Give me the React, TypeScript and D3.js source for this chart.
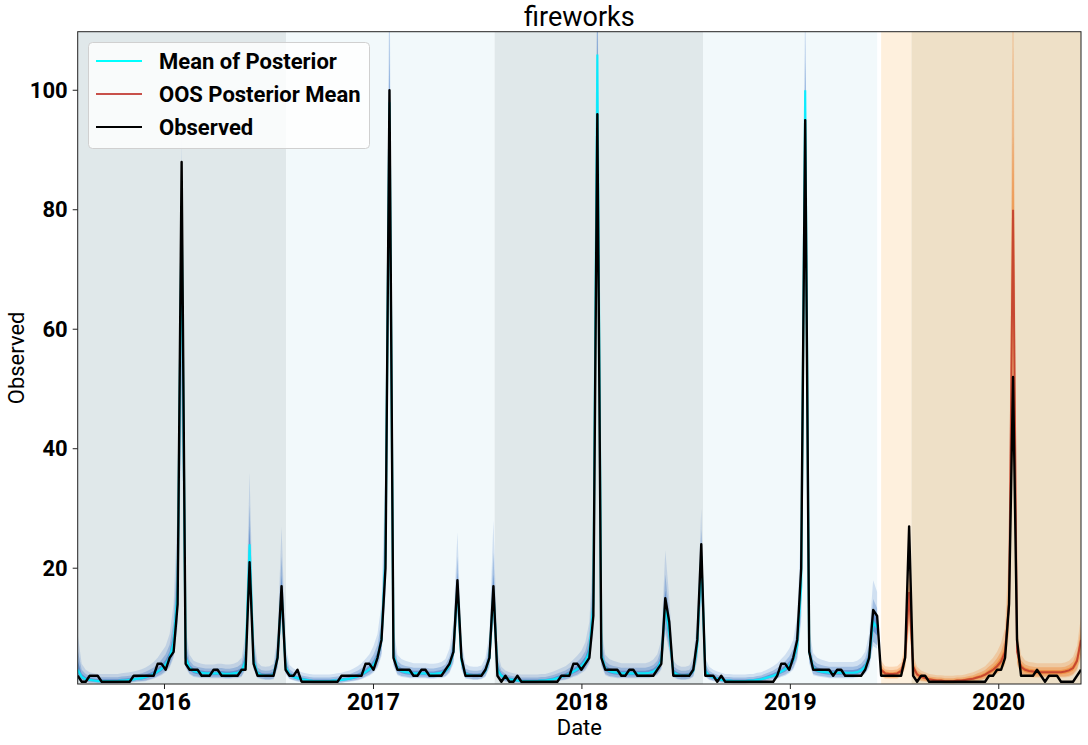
import React from 'react';
import * as d3 from 'd3';

// weekly search interest, first week starts 2015-08-02
const startDate = new Date(2015, 7, 2);
const endDate = new Date(2020, 4, 24);
const trainCount = 201;

const observed = [
  2, 1, 1, 2, 2, 2, 1, 1, 1, 1,
  1, 1, 1, 1, 2, 2, 2, 2, 2, 2,
  4, 4, 3, 5, 6, 14, 88, 4, 3, 3,
  3, 2, 2, 2, 3, 3, 2, 2, 2, 2,
  2, 3, 3, 21, 4, 2, 2, 2, 2, 2,
  5, 17, 3, 2, 2, 3, 1, 1, 1, 1,
  1, 1, 1, 1, 1, 1, 2, 2, 2, 2,
  2, 2, 4, 4, 3, 5, 8, 20, 100, 5,
  3, 3, 3, 3, 2, 2, 3, 3, 2, 2,
  2, 2, 3, 4, 6, 18, 5, 2, 2, 2,
  2, 2, 3, 5, 17, 2, 1, 2, 1, 1,
  2, 1, 1, 1, 1, 1, 1, 1, 1, 1,
  1, 2, 2, 2, 4, 4, 3, 4, 5, 12,
  96, 5, 3, 3, 3, 3, 2, 2, 3, 3,
  2, 2, 2, 2, 2, 3, 4, 15, 11, 2,
  2, 2, 2, 2, 3, 8, 24, 2, 2, 2,
  1, 2, 1, 1, 1, 1, 1, 1, 1, 1,
  1, 1, 1, 1, 1, 2, 4, 4, 3, 5,
  8, 20, 95, 6, 3, 3, 3, 3, 3, 2,
  3, 3, 2, 2, 2, 2, 2, 3, 5, 13,
  12,
  2, 2, 2, 2, 2, 2, 5, 27, 2, 1,
  2, 2, 1, 1, 1, 1, 1, 1, 1, 1,
  1, 1, 1, 1, 1, 1, 1, 2, 2, 3,
  3, 5, 14, 52, 8, 2, 2, 2, 2, 3,
  2, 1, 2, 2, 2, 1, 1, 1, 1, 2, 3,
];

// in-sample posterior: mean and spread of the sampled curves
const postMean = [
  3.0, 1.8, 1.4, 1.3, 1.2, 1.1, 1.1, 1.1, 1.1, 1.1,
  1.1, 1.2, 1.2, 1.3, 1.4, 1.5, 1.6, 1.8, 2.0, 2.3,
  2.7, 3.2, 3.9, 5.0, 7.5, 16, 80, 5, 3.3, 2.8,
  2.6, 2.5, 2.4, 2.4, 2.4, 2.4, 2.4, 2.3, 2.3, 2.4,
  2.5, 2.8, 4.5, 24, 4.5, 2.4, 2.1, 2.0, 2.0, 2.2,
  5, 16, 3.5, 2.2, 1.8, 1.6, 1.4, 1.3, 1.2, 1.1,
  1.1, 1.1, 1.1, 1.1, 1.2, 1.2, 1.3, 1.4, 1.5, 1.7,
  1.9, 2.2, 2.6, 3.1, 3.8, 5.0, 8, 22, 98, 5.5,
  3.2, 2.8, 2.6, 2.5, 2.4, 2.4, 2.4, 2.4, 2.3, 2.3,
  2.4, 2.5, 2.8, 3.6, 6, 17, 4.5, 2.3, 2.1, 2.0,
  2.0, 2.1, 2.8, 5, 16, 3, 2.0, 1.6, 1.4, 1.3,
  1.2, 1.1, 1.1, 1.1, 1.1, 1.1, 1.2, 1.2, 1.3, 1.4,
  1.6, 1.8, 2.0, 2.3, 2.7, 3.1, 3.6, 4.4, 6, 14,
  106, 5.5, 3.2, 2.8, 2.6, 2.5, 2.4, 2.4, 2.4, 2.4,
  2.4, 2.4, 2.4, 2.5, 2.7, 3.2, 4.5, 14, 9, 2.6,
  2.2, 2.0, 2.0, 2.1, 2.8, 7, 22, 2.8, 2.0, 1.7,
  1.5, 1.3, 1.2, 1.2, 1.1, 1.1, 1.1, 1.1, 1.2, 1.2,
  1.3, 1.4, 1.6, 1.8, 2.0, 2.3, 2.7, 3.1, 3.7, 4.6,
  7, 17, 100, 6, 3.3, 2.9, 2.7, 2.6, 2.5, 2.5,
  2.5, 2.5, 2.5, 2.5, 2.5, 2.6, 2.9, 3.5, 5, 11,
  10,
];
const postHi = [
  9, 4, 3, 2.6, 2.4, 2.3, 2.3, 2.3, 2.3, 2.3,
  2.3, 2.4, 2.5, 2.6, 2.7, 2.9, 3.1, 3.4, 3.8, 4.3,
  5, 6, 7, 9, 14, 30, 92, 10, 5.5, 4.5,
  4.2, 4, 3.9, 3.9, 3.9, 4.0, 4.0, 3.9, 3.9, 4.0,
  4.3, 5, 9, 36, 9, 4.2, 3.6, 3.5, 3.6, 4,
  9, 27, 7, 3.8, 3.2, 2.9, 2.6, 2.4, 2.3, 2.2,
  2.2, 2.2, 2.2, 2.2, 2.3, 2.4, 2.5, 2.7, 2.9, 3.2,
  3.6, 4.1, 4.8, 5.6, 7, 9, 14, 38, 125, 10,
  5.5, 4.8, 4.5, 4.3, 4.1, 4.1, 4.1, 4.1, 4.0, 4.0,
  4.1, 4.3, 4.8, 6.5, 11, 26, 8, 4, 3.6, 3.5,
  3.5, 3.7, 5, 9, 28, 6, 3.5, 2.9, 2.6, 2.4,
  2.3, 2.2, 2.2, 2.2, 2.2, 2.2, 2.3, 2.3, 2.5, 2.7,
  3, 3.3, 3.6, 4.1, 4.7, 5.4, 6.2, 7.6, 11, 24,
  130, 10, 5.5, 4.8, 4.5, 4.3, 4.1, 4.1, 4.1, 4.1,
  4.1, 4.1, 4.1, 4.3, 4.7, 5.6, 8, 23, 15, 4.5,
  3.8, 3.5, 3.5, 3.7, 5, 12, 30, 5, 3.5, 3,
  2.7, 2.5, 2.3, 2.3, 2.2, 2.2, 2.2, 2.2, 2.3, 2.3,
  2.5, 2.6, 2.9, 3.2, 3.6, 4.1, 4.8, 5.5, 6.5, 8,
  12, 28, 120, 10, 5.8, 5, 4.7, 4.5, 4.3, 4.3,
  4.3, 4.3, 4.3, 4.3, 4.3, 4.5, 5, 6, 9, 18,
  16,
];
const postLo = [
  1.3, 1.0, 0.9, 0.8, 0.8, 0.7, 0.7, 0.7, 0.7, 0.7,
  0.7, 0.8, 0.8, 0.8, 0.9, 1.0, 1.0, 1.1, 1.3, 1.5,
  1.8, 2.1, 2.6, 3.3, 5, 10, 45, 3.3, 2.2, 1.8,
  1.7, 1.6, 1.6, 1.6, 1.6, 1.6, 1.6, 1.5, 1.5, 1.6,
  1.6, 1.8, 3, 17, 3, 1.6, 1.4, 1.3, 1.3, 1.4,
  3.2, 11, 2.3, 1.4, 1.2, 1.0, 0.9, 0.8, 0.8, 0.7,
  0.7, 0.7, 0.7, 0.7, 0.8, 0.8, 0.8, 0.9, 1.0, 1.1,
  1.2, 1.4, 1.7, 2.0, 2.5, 3.3, 5.3, 15, 75, 3.6,
  2.1, 1.8, 1.7, 1.6, 1.6, 1.6, 1.6, 1.6, 1.5, 1.5,
  1.6, 1.6, 1.8, 2.4, 4, 12, 3, 1.5, 1.4, 1.3,
  1.3, 1.4, 1.8, 3.3, 11, 2, 1.3, 1.0, 0.9, 0.8,
  0.8, 0.7, 0.7, 0.7, 0.7, 0.7, 0.8, 0.8, 0.8, 0.9,
  1.0, 1.2, 1.3, 1.5, 1.8, 2.0, 2.4, 2.9, 4, 9,
  80, 3.6, 2.1, 1.8, 1.7, 1.6, 1.6, 1.6, 1.6, 1.6,
  1.6, 1.6, 1.6, 1.6, 1.8, 2.1, 3, 9, 6, 1.7,
  1.4, 1.3, 1.3, 1.4, 1.8, 4.6, 15, 1.8, 1.3, 1.1,
  1.0, 0.8, 0.8, 0.8, 0.7, 0.7, 0.7, 0.7, 0.8, 0.8,
  0.8, 0.9, 1.0, 1.2, 1.3, 1.5, 1.8, 2.0, 2.4, 3.0,
  4.6, 11, 80, 4, 2.1, 1.9, 1.8, 1.7, 1.6, 1.6,
  1.6, 1.6, 1.6, 1.6, 1.6, 1.7, 1.9, 2.3, 3.3, 7,
  6.5,
];

// out-of-sample posterior
const oosMean = [
  3.0, 2.4, 2.3, 2.3, 2.4, 2.8, 5, 16, 3.5, 2.2,
  1.8, 1.6, 1.4, 1.3, 1.2, 1.2, 1.1, 1.1, 1.1, 1.2,
  1.2, 1.3, 1.4, 1.5, 1.7, 1.9, 2.2, 2.6, 3.0, 3.6,
  4.4, 6, 14, 80, 6, 3.5, 3.0, 2.8, 2.7, 2.6,
  2.6, 2.6, 2.6, 2.6, 2.6, 2.6, 2.7, 2.9, 3.3, 4.5, 8,
];
const oosHi = [
  4.5, 3.6, 3.5, 3.5, 3.6, 4.2, 7.5, 22, 5.5, 3.5,
  2.9, 2.6, 2.3, 2.2, 2.1, 2.1, 2.0, 2.0, 2.0, 2.1,
  2.1, 2.2, 2.4, 2.6, 2.9, 3.2, 3.6, 4.3, 5, 6,
  7.5, 10, 24, 130, 10, 5.5, 4.6, 4.3, 4.2, 4.1,
  4.1, 4.1, 4.1, 4.1, 4.1, 4.1, 4.2, 4.5, 5.2, 7, 12,
];
const oosLo = [
  1.9, 1.5, 1.5, 1.5, 1.5, 1.8, 3.2, 10, 2.2, 1.4,
  1.1, 1.0, 0.9, 0.8, 0.8, 0.8, 0.7, 0.7, 0.7, 0.8,
  0.8, 0.8, 0.9, 1.0, 1.1, 1.2, 1.4, 1.7, 2.0, 2.3,
  2.8, 3.8, 9, 45, 3.8, 2.2, 1.9, 1.8, 1.7, 1.7,
  1.7, 1.7, 1.7, 1.7, 1.7, 1.7, 1.7, 1.8, 2.1, 2.9, 5,
];

const yTicks = [20, 40, 60, 80, 100];
const xTickYears = [2016, 2017, 2018, 2019, 2020];
// season shading, each season runs from 1 August
const seasonStarts = [new Date(2015, 7, 1), new Date(2016, 7, 1), new Date(2017, 7, 1), new Date(2018, 7, 1), new Date(2019, 7, 1)];

const W = 1088;
const H = 745;
const margin = { left: 77.7, right: 1081, top: 31.7, bottom: 684 };

export default function App() {
  const dates = observed.map((_, i) => d3.timeDay.offset(startDate, 7 * i));
  const x = d3.scaleTime().domain([startDate, endDate]).range([margin.left, margin.right]);
  const y = d3.scaleLinear().domain([0.62, 109.8]).range([margin.bottom, margin.top]);

  const lastTrain = dates[trainCount - 1];
  const firstTest = dates[trainCount];

  const bands = [
    { a: seasonStarts[0], b: seasonStarts[1], fill: '#e0e8ea' },
    { a: seasonStarts[1], b: seasonStarts[2], fill: '#f2f9fb' },
    { a: seasonStarts[2], b: seasonStarts[3], fill: '#e0e8ea' },
    { a: seasonStarts[3], b: lastTrain, fill: '#f2f9fb' },
    { a: firstTest, b: seasonStarts[4], fill: '#fef0dd' },
    { a: seasonStarts[4], b: endDate, fill: '#eee0c7' },
  ];

  const line = d3.line<number>().x((_, i) => x(dates[i])).y(d => y(d));
  const oosLine = d3.line<number>().x((_, i) => x(dates[trainCount + i])).y(d => y(d));

  // sampled curves drawn as nested translucent bands: dense near the mean, faint at the edges
  const hazeLayers = (mean: number[], lo: number[], hi: number[], offset: number, color: string, key: string, ops: number[]) => {
    const fracs = [1, 0.55, 0.25];
    return fracs.map((f, k) => {
      const area = d3.area<number>()
        .x((_, i) => x(dates[offset + i]))
        .y0((m, i) => y(m - (m - lo[i]) * Math.min(1, f * 1.5)))
        .y1((m, i) => y(m + (hi[i] - m) * f));
      return <path key={key + k} d={area(mean) || ''} fill={color} opacity={ops[k]} />;
    });
  };

  const legendItems = [
    { label: 'Mean of Posterior', color: '#00ffff' },
    { label: 'OOS Posterior Mean', color: '#c8504a' },
    { label: 'Observed', color: '#000000' },
  ];

  return (
    <svg width={W} height={H} style={{ position: 'absolute', left: 0, top: 0, background: '#fff' }} fontFamily="Roboto, sans-serif">
      <defs>
        <clipPath id="plot-clip">
          <rect x={margin.left} y={margin.top} width={margin.right - margin.left} height={margin.bottom - margin.top} />
        </clipPath>
      </defs>

      <g clipPath="url(#plot-clip)">
        {bands.map((b, i) => (
          <rect key={i} x={x(b.a)} y={margin.top} width={Math.max(0, x(b.b) - x(b.a))} height={margin.bottom - margin.top} fill={b.fill} />
        ))}

        {hazeLayers(postMean, postLo, postHi, 0, '#1f5fbf', 'in', [0.16, 0.26, 0.4])}
        <path d={line(postMean) || ''} fill="none" stroke="#00f0ff" strokeOpacity={0.9} strokeWidth={2.2} />

        {hazeLayers(oosMean, oosLo, oosHi, trainCount, '#f07010', 'oos', [0.2, 0.3, 0.45])}
        <path d={oosLine(oosMean) || ''} fill="none" stroke="#c0392b" strokeOpacity={0.85} strokeWidth={2} />

        <path d={line(observed) || ''} fill="none" stroke="#000" strokeWidth={2.4} strokeLinejoin="round" />
      </g>

      <rect x={margin.left} y={margin.top} width={margin.right - margin.left} height={margin.bottom - margin.top} fill="none" stroke="#222" strokeWidth={1} />

      {yTicks.map(t => (
        <g key={t}>
          <line x1={margin.left - 5} x2={margin.left} y1={y(t)} y2={y(t)} stroke="#222" />
          <text x={margin.left - 10} y={y(t)} textAnchor="end" dominantBaseline="central" fontSize={22} fontWeight="bold">{t}</text>
        </g>
      ))}
      {xTickYears.map(yr => {
        const xp = x(new Date(yr, 0, 1));
        return (
          <g key={yr}>
            <line x1={xp} x2={xp} y1={margin.bottom} y2={margin.bottom + 5} stroke="#222" />
            <text x={xp} y={710} textAnchor="middle" fontSize={23} fontWeight="bold">{yr}</text>
          </g>
        );
      })}

      <text x={(margin.left + margin.right) / 2} y={26} textAnchor="middle" fontSize={27}>fireworks</text>
      <text x={(margin.left + margin.right) / 2} y={735} textAnchor="middle" fontSize={22}>Date</text>
      <text transform={`translate(24, ${(margin.top + margin.bottom) / 2}) rotate(-90)`} textAnchor="middle" fontSize={22}>Observed</text>

      <g>
        <rect x={88.5} y={42.5} width={281} height={106} rx={4} fill="#fff" fillOpacity={0.8} stroke="#d0d0d0" />
        {legendItems.map((it, i) => (
          <g key={it.label} transform={`translate(0, ${61 + i * 33})`}>
            <line x1={96} x2={142} y1={0} y2={0} stroke={it.color} strokeWidth={2} />
            <text x={159} y={0} dominantBaseline="central" fontSize={22} fontWeight="bold">{it.label}</text>
          </g>
        ))}
      </g>
    </svg>
  );
}
